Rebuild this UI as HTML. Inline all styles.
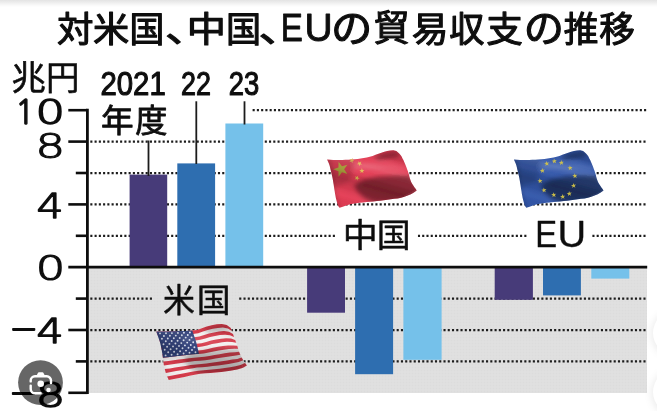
<!DOCTYPE html>
<html lang="ja"><head><meta charset="utf-8"><title>対米国、中国、EUの貿易収支の推移</title>
<style>
html,body{margin:0;padding:0;background:#fff;}
svg{display:block}
.jp{font-family:"Liberation Sans","Noto Sans CJK JP",sans-serif;font-weight:400;}
.la{font-family:"Liberation Sans",sans-serif;font-weight:400;}
.nj{font-family:"NanumGothic","IPAGothic",sans-serif;font-weight:400;}
.dv{font-family:"DejaVu Sans Light","DejaVu Sans",sans-serif;font-weight:200;}
</style></head><body>
<svg width="657" height="411" viewBox="0 0 657 411">
<defs>
<linearGradient id="topg" x1="0" y1="0" x2="0" y2="1">
<stop offset="0" stop-color="#e3e3e3"/><stop offset="0.4" stop-color="#f0f0f0"/><stop offset="0.8" stop-color="#fcfcfc"/><stop offset="1" stop-color="#ffffff"/></linearGradient>
<pattern id="ht" width="3" height="3" patternUnits="userSpaceOnUse"><rect width="3" height="3" fill="#e0e0e0"/><rect width="1.2" height="1.2" x="0.9" y="0.9" fill="#dcdcdc"/></pattern>
<linearGradient id="shcn" gradientUnits="userSpaceOnUse" x1="385.0" y1="148.0" x2="368.3" y2="207.7"><stop offset="0.00" stop-color="#000" stop-opacity="0.14"/><stop offset="0.13" stop-color="#000" stop-opacity="0.12"/><stop offset="0.26" stop-color="#fff" stop-opacity="0.02"/><stop offset="0.36" stop-color="#fff" stop-opacity="0.10"/><stop offset="0.47" stop-color="#fff" stop-opacity="0.02"/><stop offset="0.56" stop-color="#000" stop-opacity="0.08"/><stop offset="0.66" stop-color="#000" stop-opacity="0.16"/><stop offset="0.80" stop-color="#000" stop-opacity="0.07"/><stop offset="0.92" stop-color="#fff" stop-opacity="0.03"/><stop offset="1.00" stop-color="#000" stop-opacity="0.03"/></linearGradient>
<linearGradient id="sheu" gradientUnits="userSpaceOnUse" x1="571.8" y1="148.0" x2="555.1" y2="207.7"><stop offset="0.00" stop-color="#000" stop-opacity="0.14"/><stop offset="0.13" stop-color="#000" stop-opacity="0.12"/><stop offset="0.26" stop-color="#fff" stop-opacity="0.02"/><stop offset="0.36" stop-color="#fff" stop-opacity="0.10"/><stop offset="0.47" stop-color="#fff" stop-opacity="0.02"/><stop offset="0.56" stop-color="#000" stop-opacity="0.08"/><stop offset="0.66" stop-color="#000" stop-opacity="0.16"/><stop offset="0.80" stop-color="#000" stop-opacity="0.07"/><stop offset="0.92" stop-color="#fff" stop-opacity="0.03"/><stop offset="1.00" stop-color="#000" stop-opacity="0.03"/></linearGradient>
<linearGradient id="shus" gradientUnits="userSpaceOnUse" x1="214.6" y1="321.1" x2="197.9" y2="380.8"><stop offset="0.00" stop-color="#000" stop-opacity="0.14"/><stop offset="0.13" stop-color="#000" stop-opacity="0.12"/><stop offset="0.26" stop-color="#fff" stop-opacity="0.02"/><stop offset="0.36" stop-color="#fff" stop-opacity="0.10"/><stop offset="0.47" stop-color="#fff" stop-opacity="0.02"/><stop offset="0.56" stop-color="#000" stop-opacity="0.08"/><stop offset="0.66" stop-color="#000" stop-opacity="0.16"/><stop offset="0.80" stop-color="#000" stop-opacity="0.07"/><stop offset="0.92" stop-color="#fff" stop-opacity="0.03"/><stop offset="1.00" stop-color="#000" stop-opacity="0.03"/></linearGradient>
<filter id="bl" x="-30%" y="-30%" width="160%" height="160%"><feGaussianBlur stdDeviation="2.2"/></filter>
<filter id="soft" filterUnits="userSpaceOnUse" x="-12" y="-12" width="681" height="435"><feGaussianBlur stdDeviation="0.45"/></filter>
<filter id="bl2" filterUnits="userSpaceOnUse" x="630" y="290" width="80" height="150"><feGaussianBlur stdDeviation="3.5"/></filter>
</defs>

<g filter="url(#soft)">
<rect x="-12" y="-12" width="681" height="435" fill="#ffffff"/>
<rect x="-12" y="0" width="681" height="7.5" fill="url(#topg)"/>
<rect x="-12" y="-12" width="681" height="12.2" fill="#e3e3e3"/>
<rect x="88.5" y="267" width="558.5" height="126.0" fill="url(#ht)"/>
<line x1="252.6" y1="110.20" x2="646.5" y2="110.20" stroke="#1c1c1c" stroke-width="2.25" stroke-dasharray="2.1 2.155"/>
<line x1="90.3" y1="141.60" x2="645.9" y2="141.60" stroke="#1c1c1c" stroke-width="2.25" stroke-dasharray="2.1 2.155"/>
<line x1="90.3" y1="173.00" x2="645.9" y2="173.00" stroke="#1c1c1c" stroke-width="2.25" stroke-dasharray="2.1 2.155"/>
<line x1="90.3" y1="204.40" x2="645.9" y2="204.40" stroke="#1c1c1c" stroke-width="2.25" stroke-dasharray="2.1 2.155"/>
<line x1="90.3" y1="235.80" x2="645.9" y2="235.80" stroke="#1c1c1c" stroke-width="2.25" stroke-dasharray="2.1 2.155"/>
<line x1="90.3" y1="298.60" x2="645.9" y2="298.60" stroke="#1c1c1c" stroke-width="2.25" stroke-dasharray="2.1 2.155"/>
<line x1="90.3" y1="330.00" x2="645.9" y2="330.00" stroke="#1c1c1c" stroke-width="2.25" stroke-dasharray="2.1 2.155"/>
<line x1="90.3" y1="361.40" x2="645.9" y2="361.40" stroke="#1c1c1c" stroke-width="2.25" stroke-dasharray="2.1 2.155"/>
<rect x="336" y="226" width="81.5" height="20" fill="#fff"/>
<rect x="527.5" y="226" width="64.5" height="20" fill="#fff"/>
<rect x="153" y="289" width="85.5" height="20" fill="url(#ht)"/>
<rect x="129.6" y="174.6" width="37.6" height="92.6" fill="#473a79"/>
<rect x="177.3" y="163.4" width="37.8" height="103.8" fill="#2f6eb0"/>
<rect x="225.4" y="123.5" width="37.8" height="143.7" fill="#74c1ea"/>
<rect x="307.1" y="267.2" width="37.9" height="45.5" fill="#473a79"/>
<rect x="355.1" y="267.2" width="38.0" height="107.0" fill="#2f6eb0"/>
<rect x="403.4" y="267.2" width="38.2" height="92.6" fill="#74c1ea"/>
<rect x="494.7" y="267.2" width="38.2" height="32.6" fill="#473a79"/>
<rect x="543.0" y="267.2" width="37.9" height="28.2" fill="#2f6eb0"/>
<rect x="591.3" y="267.2" width="38.0" height="11.4" fill="#74c1ea"/>
<line x1="87.4" y1="108.8" x2="87.4" y2="394.0" stroke="#0d0d0d" stroke-width="2.8"/>
<line x1="68.3" y1="267.15" x2="647.2" y2="267.15" stroke="#0d0d0d" stroke-width="2.7"/>
<line x1="68.3" y1="110.20" x2="87.4" y2="110.20" stroke="#0d0d0d" stroke-width="2.6"/>
<line x1="68.3" y1="141.60" x2="87.4" y2="141.60" stroke="#0d0d0d" stroke-width="2.6"/>
<line x1="68.3" y1="204.40" x2="87.4" y2="204.40" stroke="#0d0d0d" stroke-width="2.6"/>
<line x1="68.3" y1="330.00" x2="87.4" y2="330.00" stroke="#0d0d0d" stroke-width="2.6"/>
<line x1="68.3" y1="392.80" x2="87.4" y2="392.80" stroke="#0d0d0d" stroke-width="2.6"/>
<line x1="75.8" y1="173.00" x2="87.4" y2="173.00" stroke="#0d0d0d" stroke-width="2.6"/>
<line x1="75.8" y1="235.80" x2="87.4" y2="235.80" stroke="#0d0d0d" stroke-width="2.6"/>
<line x1="75.8" y1="298.60" x2="87.4" y2="298.60" stroke="#0d0d0d" stroke-width="2.6"/>
<line x1="75.8" y1="361.40" x2="87.4" y2="361.40" stroke="#0d0d0d" stroke-width="2.6"/>
<line x1="148.5" y1="140.5" x2="148.5" y2="176" stroke="#1a1a1a" stroke-width="1.8"/>
<line x1="196.3" y1="101.3" x2="196.3" y2="164" stroke="#1a1a1a" stroke-width="1.8"/>
<line x1="244.5" y1="101.3" x2="244.5" y2="124.5" stroke="#1a1a1a" stroke-width="1.8"/>
<text class="jp" font-size="35.60" fill="#111" stroke="#111" stroke-width="1.15" stroke-linejoin="round" vector-effect="non-scaling-stroke"><tspan x="56.93" y="41.60" textLength="36.49" lengthAdjust="spacingAndGlyphs">対</tspan><tspan x="93.14" y="41.60" textLength="36.22" lengthAdjust="spacingAndGlyphs">米</tspan><tspan x="129.52" y="41.60" textLength="34.85" lengthAdjust="spacingAndGlyphs">国</tspan><tspan x="165.00" y="41.60" textLength="44.47" lengthAdjust="spacingAndGlyphs">、</tspan><tspan x="186.86" y="41.60" textLength="39.25" lengthAdjust="spacingAndGlyphs">中</tspan><tspan x="225.90" y="41.60" textLength="35.09" lengthAdjust="spacingAndGlyphs">国</tspan><tspan x="258.60" y="41.60" textLength="44.47" lengthAdjust="spacingAndGlyphs">、</tspan><tspan x="280.74" y="41.00" class="la" font-size="39.00" stroke-width="0.90" textLength="22.11" lengthAdjust="spacingAndGlyphs">E</tspan><tspan x="304.61" y="41.00" class="la" font-size="39.00" stroke-width="0.90">U</tspan><tspan x="330.97" y="41.90" font-size="38.60" textLength="41.32" lengthAdjust="spacingAndGlyphs">の</tspan><tspan x="373.43" y="41.30" font-size="36.60" textLength="36.15" lengthAdjust="spacingAndGlyphs">貿</tspan><tspan x="411.66" y="41.60" textLength="36.80" lengthAdjust="spacingAndGlyphs">易</tspan><tspan x="449.23" y="41.60" textLength="35.15" lengthAdjust="spacingAndGlyphs">収</tspan><tspan x="486.37" y="41.60" textLength="36.66" lengthAdjust="spacingAndGlyphs">支</tspan><tspan x="523.67" y="41.90" font-size="38.60" textLength="40.23" lengthAdjust="spacingAndGlyphs">の</tspan><tspan x="563.83" y="41.60" textLength="34.62" lengthAdjust="spacingAndGlyphs">推</tspan><tspan x="599.21" y="41.60">移</tspan></text>
<text class="jp" font-size="33.70" fill="#111" stroke="#111" stroke-width="0.60" stroke-linejoin="round" vector-effect="non-scaling-stroke"><tspan x="11.52" y="89.58" textLength="34.31" lengthAdjust="spacingAndGlyphs">兆</tspan><tspan x="46.02" y="89.58" textLength="33.46" lengthAdjust="spacingAndGlyphs">円</tspan></text>
<text class="la" transform="translate(133.09 94.85) scale(0.876 1)" font-size="33.50" text-anchor="middle" fill="#111" stroke="#111" stroke-width="1.10" stroke-linejoin="round" vector-effect="non-scaling-stroke">2021</text>
<text class="la" transform="translate(195.90 95.10) scale(0.794 1)" font-size="33.90" text-anchor="middle" fill="#111" stroke="#111" stroke-width="1.10" stroke-linejoin="round" vector-effect="non-scaling-stroke">22</text>
<text class="la" transform="translate(243.90 94.85) scale(0.817 1)" font-size="33.50" text-anchor="middle" fill="#111" stroke="#111" stroke-width="1.10" stroke-linejoin="round" vector-effect="non-scaling-stroke">23</text>
<text class="jp" font-size="32.00" fill="#111" stroke="#111" stroke-width="0.85" stroke-linejoin="round" vector-effect="non-scaling-stroke"><tspan x="101.06" y="131.80" textLength="32.67" lengthAdjust="spacingAndGlyphs">年</tspan><tspan x="135.28" y="131.80" textLength="32.28" lengthAdjust="spacingAndGlyphs">度</tspan></text>
<text class="jp" font-size="32.60" fill="#111" stroke="#111" stroke-width="0.50" stroke-linejoin="round" vector-effect="non-scaling-stroke"><tspan x="342.68" y="246.50" textLength="35.01" lengthAdjust="spacingAndGlyphs">中</tspan><tspan x="376.74" y="246.50" textLength="33.92" lengthAdjust="spacingAndGlyphs">国</tspan></text>
<text class="jp" font-size="32.40" fill="#111" stroke="#111" stroke-width="0.50" stroke-linejoin="round" vector-effect="non-scaling-stroke"><tspan x="163.07" y="311.50" textLength="31.91" lengthAdjust="spacingAndGlyphs">米</tspan><tspan x="196.73" y="311.50" textLength="33.83" lengthAdjust="spacingAndGlyphs">国</tspan></text>
<text class="la" font-size="36.40" fill="#111" stroke="#111" stroke-width="0.35" stroke-linejoin="round" vector-effect="non-scaling-stroke"><tspan x="535.27" y="246.50" textLength="21.85" lengthAdjust="spacingAndGlyphs">E</tspan><tspan x="557.48" y="246.50" textLength="28.65" lengthAdjust="spacingAndGlyphs">U</tspan></text>
<text class="nj" transform="scale(1.380 1)" font-size="33.40" fill="#111" stroke="#111" stroke-width="1.30" stroke-linejoin="round" vector-effect="non-scaling-stroke"><tspan x="11.07" y="124.20" textLength="13.94" lengthAdjust="spacingAndGlyphs">1</tspan><tspan x="25.69" y="124.35" class="dv" font-size="33.60" stroke-width="1.50">0</tspan></text>
<text class="dv" transform="translate(50.20 158.20) scale(1.380 1)" font-size="33.60" text-anchor="middle" fill="#111" stroke="#111" stroke-width="1.50" stroke-linejoin="round" vector-effect="non-scaling-stroke">8</text>
<text class="dv" transform="translate(50.00 218.00) scale(1.270 1)" font-size="33.60" text-anchor="middle" fill="#111" stroke="#111" stroke-width="1.50" stroke-linejoin="round" vector-effect="non-scaling-stroke">4</text>
<text class="dv" transform="translate(50.60 279.60) scale(1.380 1)" font-size="33.60" text-anchor="middle" fill="#111" stroke="#111" stroke-width="1.50" stroke-linejoin="round" vector-effect="non-scaling-stroke">0</text>
<text class="dv" transform="scale(1.270 1)" font-size="33.60" fill="#111" stroke="#111" stroke-width="1.50" stroke-linejoin="round" vector-effect="non-scaling-stroke"><tspan x="7.09" y="339.60" textLength="22.82" lengthAdjust="spacingAndGlyphs">−</tspan><tspan x="28.68" y="343.20">4</tspan></text>
<text class="dv" transform="scale(1.380 1)" font-size="33.60" fill="#111" stroke="#111" stroke-width="1.50" stroke-linejoin="round" vector-effect="non-scaling-stroke"><tspan x="6.38" y="403.60" textLength="21.00" lengthAdjust="spacingAndGlyphs">−</tspan><tspan x="25.83" y="407.20">8</tspan></text>
<g>
<path d="M327.1 159.4 L330.2 159.7 L333.2 159.9 L336.3 160.1 L339.3 160.1 L342.4 160.0 L345.5 159.8 L348.5 159.7 L351.6 159.5 L354.7 159.2 L357.7 158.9 L360.7 158.5 L363.8 158.0 L366.8 157.4 L369.8 156.8 L372.7 155.9 L375.6 154.8 L378.5 153.8 L381.4 152.7 L384.3 151.8 L387.2 151.0 L390.2 150.4 L393.3 150.3 L396.3 150.9 L397.8 152.2 L399.2 153.5 L400.5 155.0 L401.6 156.6 L402.5 158.4 L403.4 160.1 L404.2 161.9 L405.0 163.7 L405.7 165.5 L406.4 167.3 L407.1 169.2 L407.8 171.0 L408.4 172.9 L409.0 174.8 L409.4 176.7 L409.9 178.6 L410.6 180.4 L411.3 182.2 L412.3 183.9 L413.3 185.6 L414.4 187.2 L415.6 188.8 L416.7 190.4 L413.9 192.5 L410.9 194.3 L407.7 195.6 L404.4 196.8 L401.1 197.7 L397.7 198.4 L394.2 198.8 L390.8 199.3 L387.4 199.8 L383.9 200.3 L380.5 200.7 L377.0 201.1 L373.5 201.4 L370.1 201.8 L366.6 202.1 L363.1 202.4 L359.7 202.8 L356.2 203.2 L352.8 203.7 L349.4 204.6 L346.1 205.6 L342.8 206.7 L339.5 207.8 L338.2 206.1 L337.5 204.0 L336.9 201.9 L336.3 199.8 L335.8 197.7 L335.4 195.5 L335.0 193.4 L334.7 191.2 L334.3 189.1 L334.0 186.9 L333.7 184.7 L333.3 182.6 L333.0 180.4 L332.6 178.3 L332.1 176.1 L331.6 174.0 L331.1 171.8 L330.6 169.7 L330.1 167.6 L329.6 165.5 L328.9 163.4 L328.0 161.4Z" fill="#e43d55"/>
<path d="M338.56 161.79 L341.98 166.29 L347.39 164.66 L344.16 169.30 L347.39 173.94 L341.98 172.31 L338.56 176.81 L338.44 171.16 L333.10 169.30 L338.44 167.44Z" fill="#bdb140"/>
<path d="M352.62 158.06 L352.60 160.00 L354.40 160.69 L352.55 161.26 L352.44 163.20 L351.33 161.61 L349.46 162.11 L350.62 160.56 L349.57 158.94 L351.40 159.56Z" fill="#e0b850"/>
<path d="M361.24 161.43 L360.55 163.24 L362.00 164.51 L360.07 164.42 L359.31 166.19 L358.81 164.33 L356.88 164.15 L358.50 163.10 L358.07 161.21 L359.58 162.42Z" fill="#e0b850"/>
<path d="M361.90 168.10 L362.53 169.93 L364.47 169.97 L362.93 171.13 L363.49 172.98 L361.90 171.88 L360.31 172.98 L360.87 171.13 L359.33 169.97 L361.27 169.93Z" fill="#e0b850"/>
<path d="M358.14 175.65 L357.94 177.58 L359.68 178.43 L357.79 178.84 L357.52 180.75 L356.54 179.08 L354.64 179.41 L355.93 177.97 L355.03 176.26 L356.79 177.04Z" fill="#e0b850"/>
<path d="M327.1 159.4 L330.2 159.7 L333.2 159.9 L336.3 160.1 L339.3 160.1 L342.4 160.0 L345.5 159.8 L348.5 159.7 L351.6 159.5 L354.7 159.2 L357.7 158.9 L360.7 158.5 L363.8 158.0 L366.8 157.4 L369.8 156.8 L372.7 155.9 L375.6 154.8 L378.5 153.8 L381.4 152.7 L384.3 151.8 L387.2 151.0 L390.2 150.4 L393.3 150.3 L396.3 150.9 L397.8 152.2 L399.2 153.5 L400.5 155.0 L401.6 156.6 L402.5 158.4 L403.4 160.1 L404.2 161.9 L405.0 163.7 L405.7 165.5 L406.4 167.3 L407.1 169.2 L407.8 171.0 L408.4 172.9 L409.0 174.8 L409.4 176.7 L409.9 178.6 L410.6 180.4 L411.3 182.2 L412.3 183.9 L413.3 185.6 L414.4 187.2 L415.6 188.8 L416.7 190.4 L413.9 192.5 L410.9 194.3 L407.7 195.6 L404.4 196.8 L401.1 197.7 L397.7 198.4 L394.2 198.8 L390.8 199.3 L387.4 199.8 L383.9 200.3 L380.5 200.7 L377.0 201.1 L373.5 201.4 L370.1 201.8 L366.6 202.1 L363.1 202.4 L359.7 202.8 L356.2 203.2 L352.8 203.7 L349.4 204.6 L346.1 205.6 L342.8 206.7 L339.5 207.8 L338.2 206.1 L337.5 204.0 L336.9 201.9 L336.3 199.8 L335.8 197.7 L335.4 195.5 L335.0 193.4 L334.7 191.2 L334.3 189.1 L334.0 186.9 L333.7 184.7 L333.3 182.6 L333.0 180.4 L332.6 178.3 L332.1 176.1 L331.6 174.0 L331.1 171.8 L330.6 169.7 L330.1 167.6 L329.6 165.5 L328.9 163.4 L328.0 161.4Z" fill="url(#shcn)"/>
<clipPath id="clcn"><path d="M327.1 159.4 L330.2 159.7 L333.2 159.9 L336.3 160.1 L339.3 160.1 L342.4 160.0 L345.5 159.8 L348.5 159.7 L351.6 159.5 L354.7 159.2 L357.7 158.9 L360.7 158.5 L363.8 158.0 L366.8 157.4 L369.8 156.8 L372.7 155.9 L375.6 154.8 L378.5 153.8 L381.4 152.7 L384.3 151.8 L387.2 151.0 L390.2 150.4 L393.3 150.3 L396.3 150.9 L397.8 152.2 L399.2 153.5 L400.5 155.0 L401.6 156.6 L402.5 158.4 L403.4 160.1 L404.2 161.9 L405.0 163.7 L405.7 165.5 L406.4 167.3 L407.1 169.2 L407.8 171.0 L408.4 172.9 L409.0 174.8 L409.4 176.7 L409.9 178.6 L410.6 180.4 L411.3 182.2 L412.3 183.9 L413.3 185.6 L414.4 187.2 L415.6 188.8 L416.7 190.4 L413.9 192.5 L410.9 194.3 L407.7 195.6 L404.4 196.8 L401.1 197.7 L397.7 198.4 L394.2 198.8 L390.8 199.3 L387.4 199.8 L383.9 200.3 L380.5 200.7 L377.0 201.1 L373.5 201.4 L370.1 201.8 L366.6 202.1 L363.1 202.4 L359.7 202.8 L356.2 203.2 L352.8 203.7 L349.4 204.6 L346.1 205.6 L342.8 206.7 L339.5 207.8 L338.2 206.1 L337.5 204.0 L336.9 201.9 L336.3 199.8 L335.8 197.7 L335.4 195.5 L335.0 193.4 L334.7 191.2 L334.3 189.1 L334.0 186.9 L333.7 184.7 L333.3 182.6 L333.0 180.4 L332.6 178.3 L332.1 176.1 L331.6 174.0 L331.1 171.8 L330.6 169.7 L330.1 167.6 L329.6 165.5 L328.9 163.4 L328.0 161.4Z"/></clipPath>
<g clip-path="url(#clcn)"><g filter="url(#bl)">
<path d="M354.0 185.5 L364.0 179.5 L378.0 176.5 L396.0 175.5 L410.0 176.0 L420.0 192.0 L406.0 199.0 L388.0 202.0 L374.0 203.0 L364.0 198.0 L357.0 191.0Z" fill="#000" fill-opacity="0.40"/>
<path d="M374.0 157.5 L384.0 153.5 L394.0 151.5 L400.0 153.0 L398.0 157.0 L388.0 158.5 L378.0 161.0Z" fill="#000" fill-opacity="0.30"/>
<path d="M325.0 158.0 L352.0 158.0 L356.0 166.0 L350.0 180.0 L340.0 186.0 L330.0 186.0Z" fill="#000" fill-opacity="0.13"/>
<path d="M325.0 158.0 L330.0 158.0 L337.0 200.0 L341.0 209.0 L336.0 209.0Z" fill="#000" fill-opacity="0.18"/>
<path d="M352.0 165.0 L372.0 163.0 L392.0 164.5 L406.0 168.5 L407.0 172.0 L392.0 170.0 L372.0 169.0 L354.0 170.0Z" fill="#fff" fill-opacity="0.12"/>
<path d="M402.0 198.5 L412.0 194.0 L418.0 190.0 L417.0 193.0 L410.0 196.5 L403.0 199.5Z" fill="#fff" fill-opacity="0.10"/>
</g></g>
</g>
<g>
<path d="M513.9 159.4 L517.0 159.7 L520.0 159.9 L523.1 160.1 L526.1 160.1 L529.2 160.0 L532.3 159.8 L535.3 159.7 L538.4 159.5 L541.5 159.2 L544.5 158.9 L547.5 158.5 L550.6 158.0 L553.6 157.4 L556.6 156.8 L559.5 155.9 L562.4 154.8 L565.3 153.8 L568.2 152.7 L571.1 151.8 L574.0 151.0 L577.0 150.4 L580.1 150.3 L583.1 150.9 L584.6 152.2 L586.0 153.5 L587.3 155.0 L588.4 156.6 L589.3 158.4 L590.2 160.1 L591.0 161.9 L591.8 163.7 L592.5 165.5 L593.2 167.3 L593.9 169.2 L594.6 171.0 L595.2 172.9 L595.8 174.8 L596.2 176.7 L596.7 178.6 L597.4 180.4 L598.1 182.2 L599.1 183.9 L600.1 185.6 L601.2 187.2 L602.4 188.8 L603.5 190.4 L600.7 192.5 L597.7 194.3 L594.5 195.6 L591.2 196.8 L587.9 197.7 L584.5 198.4 L581.0 198.8 L577.6 199.3 L574.2 199.8 L570.7 200.3 L567.3 200.7 L563.8 201.1 L560.3 201.4 L556.9 201.8 L553.4 202.1 L549.9 202.4 L546.5 202.8 L543.0 203.2 L539.6 203.7 L536.2 204.6 L532.9 205.6 L529.6 206.7 L526.3 207.8 L525.0 206.1 L524.3 204.0 L523.7 201.9 L523.1 199.8 L522.6 197.7 L522.2 195.5 L521.8 193.4 L521.5 191.2 L521.1 189.1 L520.8 186.9 L520.5 184.7 L520.1 182.6 L519.8 180.4 L519.4 178.3 L518.9 176.1 L518.4 174.0 L517.9 171.8 L517.4 169.7 L516.9 167.6 L516.4 165.5 L515.7 163.4 L514.8 161.4Z" fill="#3357aa"/>
<path d="M513.9 159.4 L517.0 159.7 L520.0 159.9 L523.1 160.1 L526.1 160.1 L529.2 160.0 L532.3 159.8 L535.3 159.7 L538.4 159.5 L541.5 159.2 L544.5 158.9 L547.5 158.5 L550.6 158.0 L553.6 157.4 L556.6 156.8 L559.5 155.9 L562.4 154.8 L565.3 153.8 L568.2 152.7 L571.1 151.8 L574.0 151.0 L577.0 150.4 L580.1 150.3 L583.1 150.9 L584.6 152.2 L586.0 153.5 L587.3 155.0 L588.4 156.6 L589.3 158.4 L590.2 160.1 L591.0 161.9 L591.8 163.7 L592.5 165.5 L593.2 167.3 L593.9 169.2 L594.6 171.0 L595.2 172.9 L595.8 174.8 L596.2 176.7 L596.7 178.6 L597.4 180.4 L598.1 182.2 L599.1 183.9 L600.1 185.6 L601.2 187.2 L602.4 188.8 L603.5 190.4 L600.7 192.5 L597.7 194.3 L594.5 195.6 L591.2 196.8 L587.9 197.7 L584.5 198.4 L581.0 198.8 L577.6 199.3 L574.2 199.8 L570.7 200.3 L567.3 200.7 L563.8 201.1 L560.3 201.4 L556.9 201.8 L553.4 202.1 L549.9 202.4 L546.5 202.8 L543.0 203.2 L539.6 203.7 L536.2 204.6 L532.9 205.6 L529.6 206.7 L526.3 207.8 L525.0 206.1 L524.3 204.0 L523.7 201.9 L523.1 199.8 L522.6 197.7 L522.2 195.5 L521.8 193.4 L521.5 191.2 L521.1 189.1 L520.8 186.9 L520.5 184.7 L520.1 182.6 L519.8 180.4 L519.4 178.3 L518.9 176.1 L518.4 174.0 L517.9 171.8 L517.4 169.7 L516.9 167.6 L516.4 165.5 L515.7 163.4 L514.8 161.4Z" fill="url(#sheu)"/>
<clipPath id="cleu"><path d="M513.9 159.4 L517.0 159.7 L520.0 159.9 L523.1 160.1 L526.1 160.1 L529.2 160.0 L532.3 159.8 L535.3 159.7 L538.4 159.5 L541.5 159.2 L544.5 158.9 L547.5 158.5 L550.6 158.0 L553.6 157.4 L556.6 156.8 L559.5 155.9 L562.4 154.8 L565.3 153.8 L568.2 152.7 L571.1 151.8 L574.0 151.0 L577.0 150.4 L580.1 150.3 L583.1 150.9 L584.6 152.2 L586.0 153.5 L587.3 155.0 L588.4 156.6 L589.3 158.4 L590.2 160.1 L591.0 161.9 L591.8 163.7 L592.5 165.5 L593.2 167.3 L593.9 169.2 L594.6 171.0 L595.2 172.9 L595.8 174.8 L596.2 176.7 L596.7 178.6 L597.4 180.4 L598.1 182.2 L599.1 183.9 L600.1 185.6 L601.2 187.2 L602.4 188.8 L603.5 190.4 L600.7 192.5 L597.7 194.3 L594.5 195.6 L591.2 196.8 L587.9 197.7 L584.5 198.4 L581.0 198.8 L577.6 199.3 L574.2 199.8 L570.7 200.3 L567.3 200.7 L563.8 201.1 L560.3 201.4 L556.9 201.8 L553.4 202.1 L549.9 202.4 L546.5 202.8 L543.0 203.2 L539.6 203.7 L536.2 204.6 L532.9 205.6 L529.6 206.7 L526.3 207.8 L525.0 206.1 L524.3 204.0 L523.7 201.9 L523.1 199.8 L522.6 197.7 L522.2 195.5 L521.8 193.4 L521.5 191.2 L521.1 189.1 L520.8 186.9 L520.5 184.7 L520.1 182.6 L519.8 180.4 L519.4 178.3 L518.9 176.1 L518.4 174.0 L517.9 171.8 L517.4 169.7 L516.9 167.6 L516.4 165.5 L515.7 163.4 L514.8 161.4Z"/></clipPath>
<g clip-path="url(#cleu)"><g filter="url(#bl)">
<path d="M540.8 185.5 L550.8 179.5 L564.8 176.5 L582.8 175.5 L596.8 176.0 L606.8 192.0 L592.8 199.0 L574.8 202.0 L560.8 203.0 L550.8 198.0 L543.8 191.0Z" fill="#000" fill-opacity="0.40"/>
<path d="M560.8 157.5 L570.8 153.5 L580.8 151.5 L586.8 153.0 L584.8 157.0 L574.8 158.5 L564.8 161.0Z" fill="#000" fill-opacity="0.30"/>
<path d="M511.8 158.0 L538.8 158.0 L542.8 166.0 L536.8 180.0 L526.8 186.0 L516.8 186.0Z" fill="#000" fill-opacity="0.13"/>
<path d="M511.8 158.0 L516.8 158.0 L523.8 200.0 L527.8 209.0 L522.8 209.0Z" fill="#000" fill-opacity="0.18"/>
<path d="M538.8 165.0 L558.8 163.0 L578.8 164.5 L592.8 168.5 L593.8 172.0 L578.8 170.0 L558.8 169.0 L540.8 170.0Z" fill="#fff" fill-opacity="0.12"/>
<path d="M588.8 198.5 L598.8 194.0 L604.8 190.0 L603.8 193.0 L596.8 196.5 L589.8 199.5Z" fill="#fff" fill-opacity="0.10"/>
</g></g>
<path d="M546.52 160.91 L547.34 162.66 L549.27 162.50 L547.86 163.82 L548.61 165.61 L546.91 164.67 L545.45 165.94 L545.81 164.04 L544.16 163.04 L546.08 162.80Z" fill="#d6c648" fill-opacity="0.92"/>
<path d="M554.02 158.51 L554.84 160.26 L556.77 160.10 L555.36 161.42 L556.11 163.21 L554.41 162.27 L552.95 163.54 L553.31 161.64 L551.66 160.64 L553.58 160.40Z" fill="#d6c648" fill-opacity="0.92"/>
<path d="M561.12 160.11 L561.94 161.86 L563.87 161.70 L562.46 163.02 L563.21 164.81 L561.51 163.87 L560.05 165.14 L560.41 163.24 L558.76 162.24 L560.68 162.00Z" fill="#d6c648" fill-opacity="0.92"/>
<path d="M569.82 165.31 L570.64 167.06 L572.57 166.90 L571.16 168.22 L571.91 170.01 L570.21 169.07 L568.75 170.34 L569.11 168.44 L567.46 167.44 L569.38 167.20Z" fill="#d6c648" fill-opacity="0.92"/>
<path d="M574.62 173.21 L575.44 174.96 L577.37 174.80 L575.96 176.12 L576.71 177.91 L575.01 176.97 L573.55 178.24 L573.91 176.34 L572.26 175.34 L574.18 175.10Z" fill="#d6c648" fill-opacity="0.92"/>
<path d="M573.32 183.01 L574.14 184.76 L576.07 184.60 L574.66 185.92 L575.41 187.71 L573.71 186.77 L572.25 188.04 L572.61 186.14 L570.96 185.14 L572.88 184.90Z" fill="#d6c648" fill-opacity="0.92"/>
<path d="M569.02 191.01 L569.84 192.76 L571.77 192.60 L570.36 193.92 L571.11 195.71 L569.41 194.77 L567.95 196.04 L568.31 194.14 L566.66 193.14 L568.58 192.90Z" fill="#d6c648" fill-opacity="0.92"/>
<path d="M562.42 194.11 L563.24 195.86 L565.17 195.70 L563.76 197.02 L564.51 198.81 L562.81 197.87 L561.35 199.14 L561.71 197.24 L560.06 196.24 L561.98 196.00Z" fill="#d6c648" fill-opacity="0.92"/>
<path d="M553.52 192.21 L554.34 193.96 L556.27 193.80 L554.86 195.12 L555.61 196.91 L553.91 195.97 L552.45 197.24 L552.81 195.34 L551.16 194.34 L553.08 194.10Z" fill="#d6c648" fill-opacity="0.92"/>
<path d="M543.72 187.51 L544.54 189.26 L546.47 189.10 L545.06 190.42 L545.81 192.21 L544.11 191.27 L542.65 192.54 L543.01 190.64 L541.36 189.64 L543.28 189.40Z" fill="#d6c648" fill-opacity="0.92"/>
<path d="M539.72 178.31 L540.54 180.06 L542.47 179.90 L541.06 181.22 L541.81 183.01 L540.11 182.07 L538.65 183.34 L539.01 181.44 L537.36 180.44 L539.28 180.20Z" fill="#d6c648" fill-opacity="0.92"/>
<path d="M542.12 168.01 L542.94 169.76 L544.87 169.60 L543.46 170.92 L544.21 172.71 L542.51 171.77 L541.05 173.04 L541.41 171.14 L539.76 170.14 L541.68 169.90Z" fill="#d6c648" fill-opacity="0.92"/>
</g>
<g>
<path d="M156.3 331.6 L159.6 331.5 L163.0 331.5 L166.3 331.4 L169.6 331.4 L173.0 331.3 L176.3 331.2 L179.6 331.1 L183.0 331.0 L186.3 330.9 L189.6 330.8 L192.9 330.6 L196.3 330.2 L199.4 329.1 L202.5 327.9 L205.6 326.8 L208.8 325.9 L212.1 325.1 L215.4 324.5 L218.7 324.1 L222.0 324.0 L225.3 324.6 L228.3 325.9 L230.8 328.1 L231.4 329.8 L232.0 331.4 L232.7 333.1 L233.3 334.8 L233.9 336.4 L234.5 338.1 L235.1 339.8 L235.7 341.4 L236.3 343.1 L236.9 344.8 L237.4 346.5 L238.0 348.2 L238.5 349.9 L239.1 351.6 L239.7 353.2 L240.4 354.8 L241.2 356.4 L242.0 358.0 L242.9 359.6 L243.8 361.1 L244.8 362.5 L245.8 364.0 L246.9 365.4 L244.1 367.4 L240.8 368.6 L237.4 369.4 L234.0 370.0 L230.6 370.7 L227.1 371.2 L223.7 371.7 L220.2 372.0 L216.8 372.3 L213.3 372.6 L209.8 373.0 L206.3 373.2 L202.9 373.5 L199.4 373.9 L196.0 374.5 L192.6 375.2 L189.2 375.9 L185.8 376.6 L182.4 377.3 L178.9 378.0 L175.5 378.7 L172.1 379.3 L168.7 380.0 L167.8 378.0 L166.9 376.0 L166.2 374.0 L165.5 371.9 L164.9 369.8 L164.4 367.7 L164.0 365.5 L163.6 363.4 L163.3 361.2 L163.1 359.0 L162.8 356.9 L162.5 354.7 L162.2 352.6 L161.8 350.4 L161.4 348.3 L160.9 346.1 L160.4 344.0 L159.9 341.9 L159.2 339.8 L158.5 337.8 L157.8 335.7 L157.0 333.7Z" fill="#f3efef"/>
<path d="M156.3 331.6 L161.4 331.5 L166.5 331.4 L171.6 331.3 L176.7 331.2 L181.8 331.0 L187.0 330.9 L192.1 330.6 L197.1 329.9 L201.9 328.2 L206.7 326.4 L211.7 325.2 L216.7 324.3 L221.8 324.0 L226.8 325.0 L230.8 328.1 L230.9 328.3 L230.9 328.5 L231.0 328.7 L231.1 328.9 L231.2 329.1 L231.2 329.3 L231.3 329.5 L231.4 329.7 L231.5 329.9 L231.5 330.1 L231.6 330.3 L231.7 330.5 L231.8 330.6 L231.8 330.8 L231.9 331.0 L227.9 328.4 L222.9 327.6 L217.8 327.9 L212.8 328.8 L207.8 330.0 L203.0 331.6 L198.2 333.2 L193.2 333.9 L188.1 334.1 L183.0 334.4 L177.9 334.6 L172.9 334.8 L167.8 334.9 L162.7 335.1 L157.6 335.2 L157.5 335.0 L157.4 334.8 L157.3 334.5 L157.2 334.3 L157.2 334.0 L157.1 333.8 L157.0 333.5 L156.9 333.3 L156.8 333.1 L156.7 332.8 L156.6 332.6 L156.6 332.3 L156.5 332.1 L156.4 331.8Z" fill="#d63a4a"/>
<path d="M158.9 338.9 L164.0 338.7 L169.0 338.4 L174.1 338.2 L179.1 338.0 L184.2 337.7 L189.3 337.4 L194.3 337.2 L199.4 336.5 L204.2 335.0 L209.0 333.5 L213.9 332.4 L218.9 331.5 L224.0 331.1 L229.0 331.8 L233.0 334.0 L233.1 334.2 L233.1 334.4 L233.2 334.6 L233.3 334.8 L233.4 335.0 L233.4 335.2 L233.5 335.4 L233.6 335.6 L233.6 335.8 L233.7 336.0 L233.8 336.2 L233.9 336.3 L233.9 336.5 L234.0 336.7 L234.1 336.9 L230.0 335.2 L225.1 334.7 L220.0 335.1 L215.0 336.0 L210.1 337.0 L205.3 338.4 L200.4 339.8 L195.4 340.5 L190.4 340.7 L185.3 341.0 L180.3 341.4 L175.2 341.7 L170.2 342.0 L165.1 342.3 L160.1 342.5 L160.0 342.3 L159.9 342.0 L159.9 341.8 L159.8 341.6 L159.7 341.3 L159.7 341.1 L159.6 340.8 L159.5 340.6 L159.4 340.3 L159.3 340.1 L159.2 339.8 L159.2 339.6 L159.1 339.4 L159.0 339.1Z" fill="#d63a4a"/>
<path d="M160.9 346.3 L166.0 346.0 L171.1 345.6 L176.1 345.2 L181.2 344.9 L186.2 344.4 L191.3 344.1 L196.3 343.8 L201.4 343.2 L206.2 341.9 L211.1 340.6 L216.1 339.6 L221.1 338.7 L226.1 338.2 L231.1 338.6 L235.2 339.9 L235.2 340.1 L235.3 340.3 L235.4 340.5 L235.4 340.7 L235.5 340.9 L235.6 341.1 L235.7 341.3 L235.7 341.5 L235.8 341.7 L235.9 341.9 L235.9 342.1 L236.0 342.3 L236.1 342.5 L236.2 342.6 L236.2 342.8 L232.1 342.0 L227.1 341.8 L222.1 342.3 L217.0 343.2 L212.0 344.1 L207.1 345.4 L202.2 346.6 L197.2 347.2 L192.1 347.5 L187.0 347.9 L182.0 348.4 L176.9 348.8 L171.8 349.3 L166.8 349.7 L161.7 350.1 L161.7 349.8 L161.6 349.6 L161.6 349.3 L161.5 349.1 L161.5 348.8 L161.4 348.6 L161.4 348.3 L161.3 348.1 L161.3 347.8 L161.2 347.6 L161.2 347.3 L161.1 347.1 L161.1 346.8 L161.0 346.6Z" fill="#d63a4a"/>
<path d="M162.4 353.9 L167.5 353.4 L172.5 352.9 L177.6 352.4 L182.7 351.9 L187.8 351.3 L192.8 350.9 L198.0 350.5 L203.0 350.0 L208.0 348.9 L212.9 347.7 L218.0 346.8 L223.0 346.0 L228.1 345.4 L233.1 345.4 L237.2 345.8 L237.3 346.0 L237.4 346.2 L237.4 346.4 L237.5 346.6 L237.6 346.8 L237.6 347.0 L237.7 347.2 L237.7 347.4 L237.8 347.6 L237.9 347.8 L237.9 348.0 L238.0 348.2 L238.0 348.4 L238.1 348.6 L238.2 348.8 L233.9 348.8 L228.9 349.0 L223.8 349.7 L218.8 350.5 L213.7 351.4 L208.7 352.4 L203.7 353.4 L198.6 353.9 L193.5 354.3 L188.4 354.8 L183.3 355.4 L178.2 356.0 L173.1 356.6 L168.0 357.2 L162.9 357.7 L162.9 357.5 L162.8 357.2 L162.8 356.9 L162.8 356.7 L162.7 356.4 L162.7 356.2 L162.7 355.9 L162.6 355.7 L162.6 355.4 L162.6 355.2 L162.5 354.9 L162.5 354.7 L162.5 354.4 L162.4 354.1Z" fill="#d63a4a"/>
<path d="M163.3 361.6 L168.5 360.9 L173.6 360.3 L178.7 359.6 L183.8 359.0 L188.9 358.3 L194.1 357.7 L199.2 357.3 L204.4 356.8 L209.4 355.9 L214.5 355.0 L219.6 354.2 L224.7 353.3 L229.8 352.6 L234.9 352.3 L239.1 351.8 L239.2 352.0 L239.3 352.2 L239.4 352.4 L239.4 352.6 L239.5 352.8 L239.6 353.0 L239.7 353.2 L239.8 353.4 L239.8 353.6 L239.9 353.8 L240.0 353.9 L240.1 354.1 L240.2 354.3 L240.3 354.5 L240.3 354.7 L236.0 355.6 L230.9 356.2 L225.8 356.9 L220.6 357.7 L215.5 358.5 L210.4 359.4 L205.2 360.2 L200.1 360.7 L194.9 361.1 L189.7 361.7 L184.5 362.5 L179.4 363.2 L174.2 364.0 L169.1 364.7 L163.9 365.4 L163.9 365.1 L163.8 364.9 L163.8 364.6 L163.7 364.4 L163.7 364.1 L163.7 363.8 L163.6 363.6 L163.6 363.3 L163.5 363.1 L163.5 362.8 L163.5 362.6 L163.4 362.3 L163.4 362.1 L163.4 361.8Z" fill="#d63a4a"/>
<path d="M164.8 369.1 L169.9 368.4 L175.1 367.6 L180.3 366.8 L185.5 365.9 L190.6 365.1 L195.9 364.4 L201.1 364.0 L206.3 363.5 L211.5 362.7 L216.7 362.0 L221.9 361.3 L227.1 360.4 L232.2 359.6 L237.3 358.9 L241.7 357.5 L241.8 357.7 L241.9 357.9 L242.0 358.1 L242.1 358.3 L242.2 358.4 L242.3 358.6 L242.4 358.8 L242.5 359.0 L242.7 359.2 L242.8 359.4 L242.9 359.5 L243.0 359.7 L243.1 359.9 L243.2 360.1 L243.3 360.3 L238.8 362.1 L233.7 363.0 L228.5 363.9 L223.3 364.7 L218.0 365.4 L212.8 366.1 L207.6 366.7 L202.3 367.2 L197.0 367.6 L191.8 368.4 L186.6 369.3 L181.4 370.2 L176.2 371.1 L171.0 372.0 L165.8 372.9 L165.7 372.6 L165.6 372.4 L165.6 372.1 L165.5 371.9 L165.4 371.6 L165.4 371.4 L165.3 371.1 L165.2 370.9 L165.2 370.6 L165.1 370.4 L165.0 370.1 L165.0 369.9 L164.9 369.6 L164.8 369.4Z" fill="#d63a4a"/>
<path d="M167.1 376.5 L172.4 375.5 L177.6 374.6 L182.8 373.6 L188.0 372.6 L193.2 371.6 L198.5 370.8 L203.8 370.3 L209.1 369.8 L214.3 369.3 L219.6 368.7 L224.9 368.0 L230.1 367.2 L235.4 366.2 L240.5 365.1 L245.0 362.9 L245.2 363.0 L245.3 363.2 L245.4 363.4 L245.5 363.5 L245.7 363.7 L245.8 363.9 L245.9 364.1 L246.0 364.2 L246.2 364.4 L246.3 364.6 L246.4 364.7 L246.5 364.9 L246.7 365.1 L246.8 365.2 L246.9 365.4 L242.4 368.1 L237.2 369.4 L231.9 370.4 L226.7 371.3 L221.4 371.9 L216.1 372.4 L210.7 372.9 L205.4 373.3 L200.1 373.8 L194.8 374.7 L189.6 375.8 L184.4 376.9 L179.2 377.9 L173.9 379.0 L168.7 380.0 L168.6 379.8 L168.5 379.5 L168.4 379.3 L168.3 379.1 L168.2 378.8 L168.1 378.6 L168.0 378.3 L167.9 378.1 L167.8 377.9 L167.7 377.6 L167.6 377.4 L167.4 377.2 L167.3 376.9 L167.2 376.7Z" fill="#d63a4a"/>
<path d="M156.3 331.6 L158.7 331.6 L161.1 331.5 L163.5 331.5 L165.9 331.4 L168.3 331.4 L170.7 331.3 L173.1 331.3 L175.5 331.2 L177.9 331.1 L180.3 331.1 L182.7 331.0 L185.1 330.9 L187.5 330.8 L189.9 330.7 L192.3 330.6 L192.8 332.2 L193.4 333.7 L193.9 335.2 L194.4 336.7 L195.0 338.3 L195.5 339.8 L195.9 341.3 L196.4 342.9 L196.8 344.5 L197.2 346.0 L197.5 347.6 L197.9 349.2 L198.3 350.8 L198.6 352.3 L198.9 353.9 L196.4 354.1 L194.0 354.2 L191.6 354.4 L189.2 354.7 L186.8 355.0 L184.4 355.3 L182.1 355.6 L179.7 355.9 L177.3 356.1 L174.9 356.4 L172.5 356.7 L170.1 356.9 L167.7 357.2 L165.3 357.5 L162.9 357.7 L162.7 355.9 L162.4 354.1 L162.1 352.4 L161.8 350.6 L161.5 348.8 L161.1 347.1 L160.7 345.3 L160.3 343.5 L159.9 341.8 L159.3 340.1 L158.7 338.4 L158.1 336.7 L157.5 335.0 L156.9 333.3Z" fill="#33437c"/>
<circle cx="160.0" cy="333.4" r="0.95" fill="#dde2f0"/>
<circle cx="166.0" cy="333.3" r="0.95" fill="#dde2f0"/>
<circle cx="171.9" cy="333.1" r="0.95" fill="#dde2f0"/>
<circle cx="177.9" cy="332.9" r="0.95" fill="#dde2f0"/>
<circle cx="183.9" cy="332.7" r="0.95" fill="#dde2f0"/>
<circle cx="189.9" cy="332.5" r="0.95" fill="#dde2f0"/>
<circle cx="163.9" cy="336.0" r="0.95" fill="#dde2f0"/>
<circle cx="169.9" cy="335.8" r="0.95" fill="#dde2f0"/>
<circle cx="175.8" cy="335.6" r="0.95" fill="#dde2f0"/>
<circle cx="181.8" cy="335.3" r="0.95" fill="#dde2f0"/>
<circle cx="187.8" cy="335.0" r="0.95" fill="#dde2f0"/>
<circle cx="161.9" cy="338.8" r="0.95" fill="#dde2f0"/>
<circle cx="167.8" cy="338.5" r="0.95" fill="#dde2f0"/>
<circle cx="173.8" cy="338.3" r="0.95" fill="#dde2f0"/>
<circle cx="179.7" cy="338.0" r="0.95" fill="#dde2f0"/>
<circle cx="185.7" cy="337.6" r="0.95" fill="#dde2f0"/>
<circle cx="191.6" cy="337.4" r="0.95" fill="#dde2f0"/>
<circle cx="165.8" cy="341.3" r="0.95" fill="#dde2f0"/>
<circle cx="171.7" cy="341.0" r="0.95" fill="#dde2f0"/>
<circle cx="177.6" cy="340.7" r="0.95" fill="#dde2f0"/>
<circle cx="183.6" cy="340.3" r="0.95" fill="#dde2f0"/>
<circle cx="189.5" cy="339.9" r="0.95" fill="#dde2f0"/>
<circle cx="163.5" cy="344.2" r="0.95" fill="#dde2f0"/>
<circle cx="169.4" cy="343.9" r="0.95" fill="#dde2f0"/>
<circle cx="175.4" cy="343.5" r="0.95" fill="#dde2f0"/>
<circle cx="181.3" cy="343.1" r="0.95" fill="#dde2f0"/>
<circle cx="187.2" cy="342.6" r="0.95" fill="#dde2f0"/>
<circle cx="193.2" cy="342.3" r="0.95" fill="#dde2f0"/>
<circle cx="167.1" cy="346.8" r="0.95" fill="#dde2f0"/>
<circle cx="173.0" cy="346.4" r="0.95" fill="#dde2f0"/>
<circle cx="179.0" cy="345.9" r="0.95" fill="#dde2f0"/>
<circle cx="184.9" cy="345.4" r="0.95" fill="#dde2f0"/>
<circle cx="190.8" cy="345.0" r="0.95" fill="#dde2f0"/>
<circle cx="164.7" cy="349.8" r="0.95" fill="#dde2f0"/>
<circle cx="170.6" cy="349.3" r="0.95" fill="#dde2f0"/>
<circle cx="176.6" cy="348.8" r="0.95" fill="#dde2f0"/>
<circle cx="182.5" cy="348.3" r="0.95" fill="#dde2f0"/>
<circle cx="188.5" cy="347.7" r="0.95" fill="#dde2f0"/>
<circle cx="194.4" cy="347.3" r="0.95" fill="#dde2f0"/>
<circle cx="168.2" cy="352.3" r="0.95" fill="#dde2f0"/>
<circle cx="174.1" cy="351.8" r="0.95" fill="#dde2f0"/>
<circle cx="180.1" cy="351.2" r="0.95" fill="#dde2f0"/>
<circle cx="186.0" cy="350.6" r="0.95" fill="#dde2f0"/>
<circle cx="192.0" cy="350.0" r="0.95" fill="#dde2f0"/>
<circle cx="165.6" cy="355.4" r="0.95" fill="#dde2f0"/>
<circle cx="171.6" cy="354.8" r="0.95" fill="#dde2f0"/>
<circle cx="177.6" cy="354.2" r="0.95" fill="#dde2f0"/>
<circle cx="183.6" cy="353.5" r="0.95" fill="#dde2f0"/>
<circle cx="189.5" cy="352.8" r="0.95" fill="#dde2f0"/>
<circle cx="195.5" cy="352.3" r="0.95" fill="#dde2f0"/>
<path d="M156.3 331.6 L159.6 331.5 L163.0 331.5 L166.3 331.4 L169.6 331.4 L173.0 331.3 L176.3 331.2 L179.6 331.1 L183.0 331.0 L186.3 330.9 L189.6 330.8 L192.9 330.6 L196.3 330.2 L199.4 329.1 L202.5 327.9 L205.6 326.8 L208.8 325.9 L212.1 325.1 L215.4 324.5 L218.7 324.1 L222.0 324.0 L225.3 324.6 L228.3 325.9 L230.8 328.1 L231.4 329.8 L232.0 331.4 L232.7 333.1 L233.3 334.8 L233.9 336.4 L234.5 338.1 L235.1 339.8 L235.7 341.4 L236.3 343.1 L236.9 344.8 L237.4 346.5 L238.0 348.2 L238.5 349.9 L239.1 351.6 L239.7 353.2 L240.4 354.8 L241.2 356.4 L242.0 358.0 L242.9 359.6 L243.8 361.1 L244.8 362.5 L245.8 364.0 L246.9 365.4 L244.1 367.4 L240.8 368.6 L237.4 369.4 L234.0 370.0 L230.6 370.7 L227.1 371.2 L223.7 371.7 L220.2 372.0 L216.8 372.3 L213.3 372.6 L209.8 373.0 L206.3 373.2 L202.9 373.5 L199.4 373.9 L196.0 374.5 L192.6 375.2 L189.2 375.9 L185.8 376.6 L182.4 377.3 L178.9 378.0 L175.5 378.7 L172.1 379.3 L168.7 380.0 L167.8 378.0 L166.9 376.0 L166.2 374.0 L165.5 371.9 L164.9 369.8 L164.4 367.7 L164.0 365.5 L163.6 363.4 L163.3 361.2 L163.1 359.0 L162.8 356.9 L162.5 354.7 L162.2 352.6 L161.8 350.4 L161.4 348.3 L160.9 346.1 L160.4 344.0 L159.9 341.9 L159.2 339.8 L158.5 337.8 L157.8 335.7 L157.0 333.7Z" fill="url(#shus)" opacity="0.7"/>
<clipPath id="clus"><path d="M156.3 331.6 L159.6 331.5 L163.0 331.5 L166.3 331.4 L169.6 331.4 L173.0 331.3 L176.3 331.2 L179.6 331.1 L183.0 331.0 L186.3 330.9 L189.6 330.8 L192.9 330.6 L196.3 330.2 L199.4 329.1 L202.5 327.9 L205.6 326.8 L208.8 325.9 L212.1 325.1 L215.4 324.5 L218.7 324.1 L222.0 324.0 L225.3 324.6 L228.3 325.9 L230.8 328.1 L231.4 329.8 L232.0 331.4 L232.7 333.1 L233.3 334.8 L233.9 336.4 L234.5 338.1 L235.1 339.8 L235.7 341.4 L236.3 343.1 L236.9 344.8 L237.4 346.5 L238.0 348.2 L238.5 349.9 L239.1 351.6 L239.7 353.2 L240.4 354.8 L241.2 356.4 L242.0 358.0 L242.9 359.6 L243.8 361.1 L244.8 362.5 L245.8 364.0 L246.9 365.4 L244.1 367.4 L240.8 368.6 L237.4 369.4 L234.0 370.0 L230.6 370.7 L227.1 371.2 L223.7 371.7 L220.2 372.0 L216.8 372.3 L213.3 372.6 L209.8 373.0 L206.3 373.2 L202.9 373.5 L199.4 373.9 L196.0 374.5 L192.6 375.2 L189.2 375.9 L185.8 376.6 L182.4 377.3 L178.9 378.0 L175.5 378.7 L172.1 379.3 L168.7 380.0 L167.8 378.0 L166.9 376.0 L166.2 374.0 L165.5 371.9 L164.9 369.8 L164.4 367.7 L164.0 365.5 L163.6 363.4 L163.3 361.2 L163.1 359.0 L162.8 356.9 L162.5 354.7 L162.2 352.6 L161.8 350.4 L161.4 348.3 L160.9 346.1 L160.4 344.0 L159.9 341.9 L159.2 339.8 L158.5 337.8 L157.8 335.7 L157.0 333.7Z"/></clipPath>
<g clip-path="url(#clus)"><g filter="url(#bl)">
<path d="M183.6 358.6 L193.6 352.6 L207.6 349.6 L225.6 348.6 L239.6 349.1 L249.6 365.1 L235.6 372.1 L217.6 375.1 L203.6 376.1 L193.6 371.1 L186.6 364.1Z" fill="#000" fill-opacity="0.22"/>
<path d="M203.6 330.6 L213.6 326.6 L223.6 324.6 L229.6 326.1 L227.6 330.1 L217.6 331.6 L207.6 334.1Z" fill="#000" fill-opacity="0.17"/>
<path d="M154.6 331.1 L181.6 331.1 L185.6 339.1 L179.6 353.1 L169.6 359.1 L159.6 359.1Z" fill="#000" fill-opacity="0.07"/>
<path d="M154.6 331.1 L159.6 331.1 L166.6 373.1 L170.6 382.1 L165.6 382.1Z" fill="#000" fill-opacity="0.10"/>
<path d="M181.6 338.1 L201.6 336.1 L221.6 337.6 L235.6 341.6 L236.6 345.1 L221.6 343.1 L201.6 342.1 L183.6 343.1Z" fill="#fff" fill-opacity="0.07"/>
<path d="M231.6 371.6 L241.6 367.1 L247.6 363.1 L246.6 366.1 L239.6 369.6 L232.6 372.6Z" fill="#fff" fill-opacity="0.06"/>
</g></g>
</g>
<g filter="url(#bl2)"><circle cx="675.5" cy="334" r="24.5" fill="#000" fill-opacity="0.07"/><circle cx="675.5" cy="393" r="24.5" fill="#000" fill-opacity="0.07"/></g>
<circle cx="675.3" cy="333" r="22.3" fill="#fff"/><circle cx="675.3" cy="392" r="22.3" fill="#fff"/>
<circle cx="40.5" cy="382.6" r="22.4" fill="#000" fill-opacity="0.60"/>
<g fill="none" stroke="#fff" stroke-width="2.4" stroke-linecap="round" stroke-linejoin="round">
<path d="M30.7 381.4 V380.6 a4.3 4.3 0 0 1 4.3 -4.3 H46.7 a4.3 4.3 0 0 1 4.3 4.3 V383.0"/>
<path d="M30.7 385.6 V389.0 a4.3 4.3 0 0 0 4.3 4.3 H40.6"/>
</g>
<path d="M36.6 375.6 L37.9 372.9 Q38.2 372.3 38.9 372.3 H42.5 Q43.2 372.3 43.5 372.9 L44.8 375.6 Z" fill="#fff"/>
<circle cx="40.7" cy="383.8" r="3.3" fill="#fff"/>
<circle cx="48.5" cy="390.1" r="2.25" fill="#fff"/>
</g>
</svg></body></html>
